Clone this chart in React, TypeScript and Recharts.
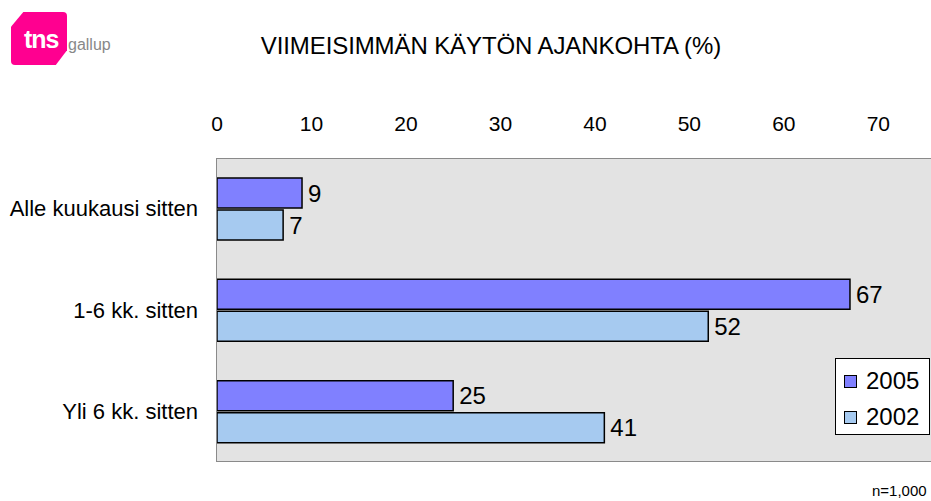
import {
  BarChart,
  Bar,
  XAxis,
  YAxis,
  CartesianGrid,
  LabelList,
} from "recharts";

const categories = ["Alle kuukausi sitten", "1-6 kk. sitten", "Yli 6 kk. sitten"];
const values2005 = [9, 67, 25];
const values2002 = [7, 52, 41];
const xTicks = [0, 10, 20, 30, 40, 50, 60, 70];

const data = categories.map((name, i) => ({
  name,
  y2005: values2005[i],
  y2002: values2002[i],
}));

const FONT = "'Liberation Sans', Arial, sans-serif";
const C2005 = "#8080ff";
const C2002 = "#a6caf0";

function LegendBox() {
  const items = [
    { label: "2005", color: C2005 },
    { label: "2002", color: C2002 },
  ];
  return (
    <div
      style={{
        position: "absolute",
        left: 835,
        top: 358,
        width: 95,
        height: 77,
        border: "1px solid #000",
        background: "#fff",
        boxSizing: "border-box",
        paddingTop: 4,
        paddingLeft: 8,
        fontSize: 24,
        color: "#000",
      }}
    >
      {items.map((it) => (
        <div
          key={it.label}
          style={{ display: "flex", alignItems: "center", height: 36 }}
        >
          <span
            style={{
              display: "inline-block",
              width: 11,
              height: 11,
              background: it.color,
              border: "1px solid #000",
              marginRight: 9,
            }}
          />
          {it.label}
        </div>
      ))}
    </div>
  );
}

function Logo() {
  return (
    <div style={{ position: "absolute", left: 11, top: 12 }}>
      <div
        style={{
          width: 56,
          height: 53,
          background: "#ff0090",
          clipPath:
            "polygon(22% 0, 100% 0, 100% 72%, 80% 100%, 0 100%, 0 28%)",
          borderRadius: 4,
        }}
      />
      <div
        style={{
          position: "absolute",
          left: 13,
          top: 15,
          fontWeight: "bold",
          fontSize: 25,
          color: "#fff",
          letterSpacing: -1,
          lineHeight: "25px",
        }}
      >
        tns
      </div>
      <div
        style={{
          position: "absolute",
          left: 57,
          top: 25,
          fontSize: 16,
          color: "#888",
          lineHeight: "16px",
        }}
      >
        gallup
      </div>
    </div>
  );
}

export default function App() {
  return (
    <div
      style={{
        position: "fixed",
        left: 0,
        top: 0,
        width: 931,
        height: 501,
        overflow: "hidden",
        background: "#fff",
        fontFamily: FONT,
      }}
    >
      <Logo />
      <div
        style={{
          position: "absolute",
          left: 0,
          top: 32,
          width: 982,
          textAlign: "center",
          fontSize: 24,
          color: "#000",
          letterSpacing: -0.1,
        }}
      >
        VIIMEISIMMÄN KÄYTÖN AJANKOHTA (%)
      </div>
      <div style={{ position: "absolute", left: 0, top: 0 }}>
        <BarChart
          width={945}
          height={501}
          data={data}
          layout="vertical"
          margin={{ top: 0, right: 10, bottom: 39, left: 0 }}
          barSize={30}
          barGap={2}
        >
          <CartesianGrid
            horizontal={false}
            vertical={false}
            fill="#e3e3e3"
          />
          <XAxis
            type="number"
            orientation="top"
            domain={[0, 76]}
            ticks={xTicks}
            interval={0}
            height={158}
            axisLine={false}
            tickLine={false}
            tickSize={0}
            tickMargin={27}
            tick={{ fill: "#000", fontSize: 21, fontFamily: FONT }}
          />
          <YAxis
            type="category"
            dataKey="name"
            width={217}
            axisLine={false}
            tickLine={false}
            tickSize={0}
            tickMargin={19}
            tick={{ fill: "#000", fontSize: 22, fontFamily: FONT }}
          />
          <Bar
            dataKey="y2005"
            name="2005"
            fill={C2005}
            stroke="#000"
            strokeWidth={1.5}
            isAnimationActive={false}
          >
            <LabelList
              dataKey="y2005"
              position="right"
              offset={6}
              fill="#000"
              fontSize={24}
              fontFamily={FONT}
            />
          </Bar>
          <Bar
            dataKey="y2002"
            name="2002"
            fill={C2002}
            stroke="#000"
            strokeWidth={1.5}
            isAnimationActive={false}
          >
            <LabelList
              dataKey="y2002"
              position="right"
              offset={6}
              fill="#000"
              fontSize={24}
              fontFamily={FONT}
            />
          </Bar>
        </BarChart>
      </div>
      <div
        style={{
          position: "absolute",
          left: 216,
          top: 158,
          width: 720,
          height: 304,
          border: "1px solid #8a8a8a",
          boxSizing: "border-box",
          pointerEvents: "none",
        }}
      />
      <LegendBox />
      <div
        style={{
          position: "absolute",
          left: 872,
          top: 482,
          fontSize: 15,
          color: "#000",
          whiteSpace: "nowrap",
        }}
      >
        n=1,000
      </div>
    </div>
  );
}
